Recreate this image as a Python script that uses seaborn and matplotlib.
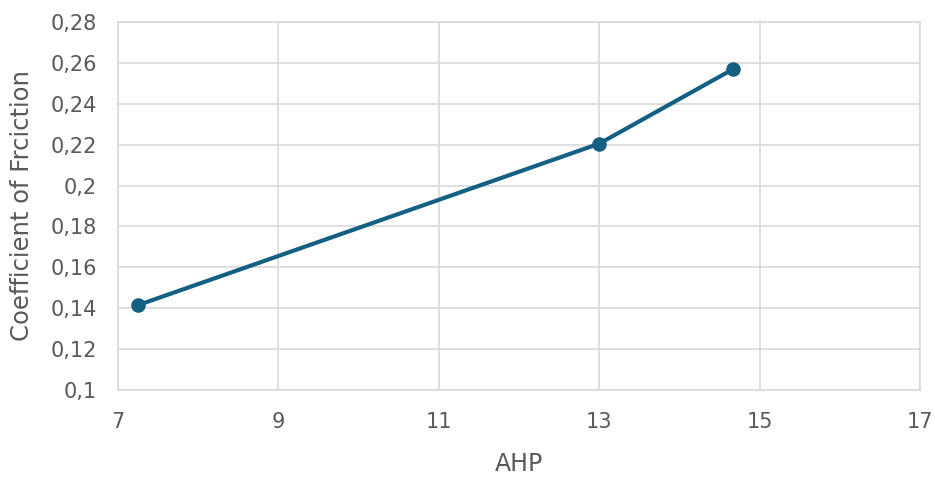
import pandas as pd
import matplotlib.pyplot as plt
import seaborn as sns
from matplotlib.ticker import FuncFormatter

# === Data ===
ahp = [7.25, 13.0, 14.67]
cof = [0.1415, 0.2205, 0.257]
df = pd.DataFrame({'AHP': ahp, 'COF': cof})

# === Plot ===
sns.set_theme(style="whitegrid")
plt.rcParams['font.family'] = ['DejaVu Sans']

fig = plt.figure(figsize=(9.35, 4.8), dpi=100)
ax = fig.add_axes([0.126, 0.1875, 0.858, 0.7665])

sns.lineplot(data=df, x='AHP', y='COF', ax=ax, color='#156082',
             linewidth=3, marker='o', markersize=10.5, markeredgewidth=0)

ax.set_xlim(7, 17)
ax.set_ylim(0.1, 0.28)
ax.set_xticks([7, 9, 11, 13, 15, 17])
ax.set_yticks([0.1, 0.12, 0.14, 0.16, 0.18, 0.2, 0.22, 0.24, 0.26, 0.28])
ax.yaxis.set_major_formatter(FuncFormatter(lambda v, p: f"{v:.2f}".rstrip('0').replace('.', ',')))

gray = '#595959'
ax.grid(True, color='#d9d9d9', linewidth=1.2)
for s in ax.spines.values():
    s.set_color('#d9d9d9')
    s.set_linewidth(1.2)
ax.tick_params(axis='both', colors=gray, labelsize=15, length=0)
ax.tick_params(axis='x', pad=16)
ax.tick_params(axis='y', pad=15)
ax.set_xlabel("AHP", fontsize=17, color=gray, labelpad=14)
ax.set_ylabel("Coefficient of Frciction", fontsize=17.5, color=gray, labelpad=12)

fig.savefig("out.png", dpi=100)
